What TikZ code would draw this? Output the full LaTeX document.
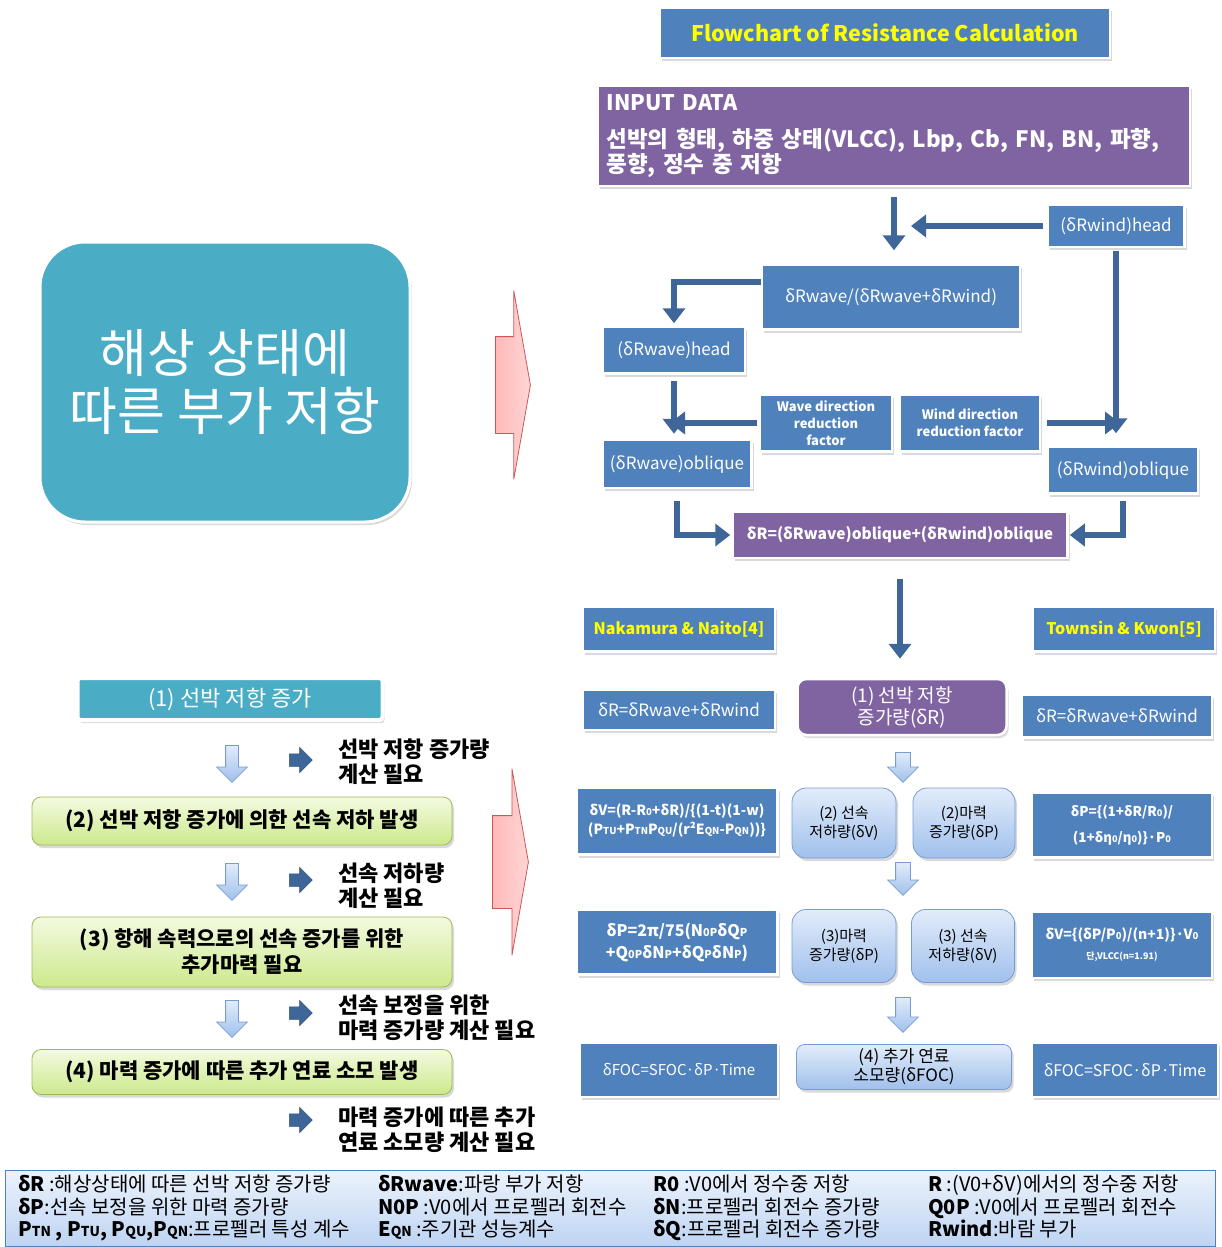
\documentclass[tikz,border=0pt]{standalone}
\usepackage{fontspec}
\setmainfont{Noto Sans CJK KR}
\usepackage{xcolor}
\definecolor{boxblue}{RGB}{79,129,189}
\definecolor{arrowblue}{RGB}{62,102,152}
\definecolor{boxpurple}{RGB}{128,100,162}
\definecolor{boxteal}{RGB}{75,172,198}
\definecolor{hiyellow}{RGB}{255,255,0}
\definecolor{softtop}{RGB}{226,236,250}
\definecolor{softbot}{RGB}{160,192,236}
\definecolor{softline}{RGB}{120,156,210}
\definecolor{greentop}{RGB}{243,250,224}
\definecolor{greenbot}{RGB}{205,233,140}
\definecolor{greenline}{RGB}{155,187,89}
\definecolor{pinkfill}{RGB}{255,185,185}
\definecolor{pinkline}{RGB}{205,85,85}
\definecolor{keytop}{RGB}{236,243,252}
\definecolor{keybot}{RGB}{190,212,242}
\usepackage{tikz}
\usetikzlibrary{arrows.meta,positioning,shapes.arrows,shadows,calc}
\newcommand\fsz[2]{\fontsize{#1}{#2}\selectfont}
\newcommand\lo[1]{\scalebox{.68}{#1}}
\tikzset{
  sz/.style 2 args={minimum width=#1pt,minimum height=#2pt},
  shade/.style={drop shadow={opacity=.3,shadow xshift=2pt,shadow yshift=-3pt}},
  bluebox/.style={draw=white,line width=2.5pt,fill=boxblue,text=white,%
    inner sep=2pt,align=center,shade,font=\fsz{17}{21}},
  purplebox/.style={bluebox,fill=boxpurple},
  softbox/.style={draw=softline,line width=.8pt,top color=softtop,bottom color=softbot,%
    rounded corners=14pt,inner sep=2pt,align=center,shade,font=\fsz{15}{19}},
  greenbox/.style={draw=greenline,line width=.8pt,top color=greentop,bottom color=greenbot,%
    rounded corners=9pt,inner sep=2pt,align=center,shade,font=\bfseries\fsz{21}{26}},
  note/.style={anchor=west,align=left,inner sep=0pt,font=\bfseries\fsz{22}{25}},
  keytext/.style={anchor=north west,align=left,inner sep=0pt,font=\fsz{20}{22.5}},
  flow/.style={draw=arrowblue,line width=6pt,-{Triangle[length=15pt,width=22pt]}},
  hollow/.style={single arrow,draw=softline,line width=.8pt,top color=softtop,bottom color=softbot,%
    inner xsep=0pt,inner ysep=7pt,single arrow head extend=8pt,anchor=tail,rotate=-90},
  pointer/.style={single arrow,draw=arrowblue!80!black,fill=arrowblue,line width=.5pt,%
    inner xsep=0pt,inner ysep=6pt,single arrow head extend=6.5pt,minimum height=23pt,anchor=tail},
  pinkarrow/.style={single arrow,draw=pinkline,line width=.8pt,left color=pinkfill,right color=pinkfill!60,%
    inner xsep=0pt,inner ysep=48pt,single arrow head extend=46pt,single arrow tip angle=160,anchor=tail},
}

\begin{document}
\begin{tikzpicture}[x=1pt,y=-1pt]
\useasboundingbox (0,0) rectangle (1221,1247);

% right column: resistance flowchart
\node[bluebox,sz={450}{50},text=hiyellow,font=\bfseries\fsz{21.5}{25}] (title) at (885,33) {Flowchart of Resistance Calculation};
\node[purplebox,sz={592}{100},text width=575pt,align=left,font=\bfseries\fsz{22.5}{25}] (input) at (894,136)
  {{\fsz{21.5}{25}INPUT DATA}\\[12pt]선박의 형태, 하중 상태(VLCC), Lbp, Cb, FN, BN, 파향,\\풍향, 정수 중 저항};
\node[bluebox,sz={137}{42}] (windhead) at (1116,226) {(δRwind)head};
\node[bluebox,sz={258}{65}] (ratio) at (891,297) {δRwave/(δRwave+δRwind)};
\node[bluebox,sz={142}{47}] (wavehead) at (674,350) {(δRwave)head};
\node[bluebox,sz={132}{57},font=\bfseries\fsz{13}{17}] (wavedir) at (826,423) {Wave direction\\reduction\\factor};
\node[bluebox,sz={140}{57},font=\bfseries\fsz{13}{17}] (winddir) at (970,423) {Wind direction\\reduction factor};
\node[bluebox,sz={149}{48}] (waveobl) at (677,464) {(δRwave)oblique};
\node[bluebox,sz={150}{47}] (windobl) at (1123,470) {(δRwind)oblique};
\node[purplebox,sz={335}{46},font=\bfseries\fsz{15.5}{21}] (total) at (900,535) {δR=(δRwave)oblique+(δRwind)oblique};

\draw[flow,shorten <=10pt,shorten >=13pt] (input.south) -- (input.south |- ratio.north);
\draw[flow,shorten <=3pt,shorten >=17pt] (windhead.west) -- (windhead.west -| input.south);
\draw[flow,shorten >=2pt] ([yshift=15pt]ratio.west) -| (wavehead.north);
\draw[flow,shorten <=6pt,shorten >=5pt] (wavehead.south) -- (wavehead.south |- waveobl.north);
\draw[flow,shorten <=2pt,shorten >=-4pt] (wavedir.west) -- (wavedir.west -| wavehead.south);
\draw[flow,shorten <=6pt,shorten >=-4pt] (winddir.east) -- (winddir.east -| windhead.south);
\draw[flow,shorten <=3pt,shorten >=12pt] (windhead.south) -- (windhead.south |- windobl.north);
\draw[flow,shorten <=12pt,shorten >=1pt] (waveobl.south) |- (total.west);
\draw[flow,shorten <=6pt,shorten >=1pt] (windobl.south) |- (total.east);

% resistance increase and its consequences
\node[bluebox,sz={192}{45},text=hiyellow,font=\bfseries\fsz{16}{20}] (nakamura) at (679,629) {Nakamura \& Naito[4]};
\node[bluebox,sz={182}{45},text=hiyellow,font=\bfseries\fsz{16}{20}] (townsin) at (1124,629) {Townsin \& Kwon[5]};
\node[bluebox,sz={192}{40}] (eqleft) at (679,710) {δR=δRwave+δRwind};
\node[purplebox,sz={209}{56},rounded corners=9pt,font=\fsz{19}{22}] (res1) at (902,707) {(1) 선박 저항\\증가량(δR)};
\node[bluebox,sz={190}{43}] (eqright) at (1117,716) {δR=δRwave+δRwind};
\draw[flow,shorten <=20pt,shorten >=19pt] (total.south) -- (total.south |- res1.north);

\node[bluebox,sz={201}{67},font=\bfseries\fsz{14}{19}] (dv2) at (677,821)
  {δV=(R-R\lo{0}+δR)/\{(1-t)(1-w)\\(P\lo{TU}+P\lo{TN}P\lo{QU}/(r²E\lo{QN}-P\lo{QN}))\}};
\node[softbox,sz={104}{70}] (v2) at (844,823) {(2) 선속\\저하량(δV)};
\node[softbox,sz={102}{70}] (p2) at (964,823) {(2)마력\\증가량(δP)};
\node[bluebox,sz={180}{65},font=\bfseries\fsz{13.5}{19}] (dp2) at (1122,825)
  {δP=\{(1+δR/R\lo{0})/\\[7pt](1+δη\lo{0}/η\lo{0})\}·P\lo{0}};
\node[bluebox,sz={201}{65},font=\bfseries\fsz{16}{22}] (dp3) at (677,942)
  {δP=2π/75(N\lo{0P}δQ\lo{P}\\+Q\lo{0P}δN\lo{P}+δQ\lo{P}δN\lo{P})};
\node[softbox,sz={104}{73}] (p3) at (844,946) {(3)마력\\증가량(δP)};
\node[softbox,sz={103}{73}] (v3) at (963,946) {(3) 선속\\저하량(δV)};
\node[bluebox,sz={180}{66},font=\bfseries\fsz{14}{20}] (dv3) at (1122,945)
  {δV=\{(δP/P\lo{0})/(n+1)\}·V\lo{0}\\{\fsz{9}{12}단,VLCC(n=1.91)}};
\node[bluebox,sz={198}{54},font=\fsz{15}{20}] (focleft) at (679,1070) {δFOC=SFOC·δP·Time};
\node[softbox,sz={215}{45},rounded corners=8pt,font=\fsz{17}{19}] (foc) at (904,1067) {(4) 추가 연료\\소모량(δFOC)};
\node[bluebox,sz={186}{54},font=\fsz{16}{20}] (focright) at (1125,1070) {δFOC=SFOC·δP·Time};

\node[hollow,minimum height=30pt] (m1) at (903,752) {};
\node[hollow,minimum height=33pt] (m2) at (903,862) {};
\node[hollow,minimum height=35pt] (m3) at (903,997) {};

% left column: sea state summary
\node[draw=white,line width=3pt,fill=boxteal,rounded corners=45pt,shade,sz={370}{280},
  text=white,align=center,font=\fsz{52}{58}] (sea) at (225,382) {해상 상태에\\따른 부가 저항};
\node[pinkarrow,minimum height=35pt] (pink1) at (495,385) {};

\node[draw=white,line width=4pt,fill=boxteal,rounded corners=3pt,shade,sz={305}{42},
  text=white,font=\fsz{22}{24}] (step1) at (230,699) {(1) 선박 저항 증가};
\node[greenbox,sz={420}{48}] (step2) at (242,821) {(2) 선박 저항 증가에 의한 선속 저하 발생};
\node[greenbox,sz={420}{70}] (step3) at (242,952) {(3) 항해 속력으로의 선속 증가를 위한\\추가마력 필요};
\node[greenbox,sz={420}{45}] (step4) at (242,1072) {(4) 마력 증가에 따른 추가 연료 소모 발생};

\node[hollow,minimum height=37pt,inner ysep=6pt,single arrow head extend=9pt] (d1) at (232,745) {};
\node[hollow,minimum height=37pt,inner ysep=6pt,single arrow head extend=9pt] (d2) at (232,863) {};
\node[hollow,minimum height=37pt,inner ysep=6pt,single arrow head extend=9pt] (d3) at (232,1000) {};

\node[pointer] (r1) at (289,760) {};
\node[pointer] (r2) at (289,880) {};
\node[pointer] (r3) at (289,1013) {};
\node[pointer] (r4) at (289,1120) {};
\node[note] (n1) at (338,762) {선박 저항 증가량\\계산 필요};
\node[note] (n2) at (338,886) {선속 저하량\\계산 필요};
\node[note] (n3) at (338,1018) {선속 보정을 위한\\마력 증가량 계산 필요};
\node[note] (n4) at (338,1130) {마력 증가에 따른 추가\\연료 소모량 계산 필요};

\node[pinkarrow,minimum height=36pt,inner ysep=46pt,single arrow head extend=47pt] (pink2) at (492,862) {};

% symbol list
\node[draw=boxblue,line width=1pt,top color=keytop,bottom color=keybot,sz={1210}{76},inner sep=0pt] (key) at (610,1208) {};
\node[keytext] (k1) at (18,1175) {\textbf{δR} :해상상태에 따른 선박 저항 증가량\\\textbf{δP}:선속 보정을 위한 마력 증가량\\\textbf{P\lo{TN} , P\lo{TU}, P\lo{QU},P\lo{QN}}:프로펠러 특성 계수};
\node[keytext] (k2) at (378,1175) {\textbf{δRwave}:파랑 부가 저항\\\textbf{N0P} :V0에서 프로펠러 회전수\\\textbf{E\lo{QN}} :주기관 성능계수};
\node[keytext] (k3) at (653,1175) {\textbf{R0} :V0에서 정수중 저항\\\textbf{δN}:프로펠러 회전수 증가량\\\textbf{δQ}:프로펠러 회전수 증가량};
\node[keytext] (k4) at (928,1175) {\textbf{R} :(V0+δV)에서의 정수중 저항\\\textbf{Q0P} :V0에서 프로펠러 회전수\\\textbf{Rwind}:바람 부가};
\end{tikzpicture}
\end{document}
